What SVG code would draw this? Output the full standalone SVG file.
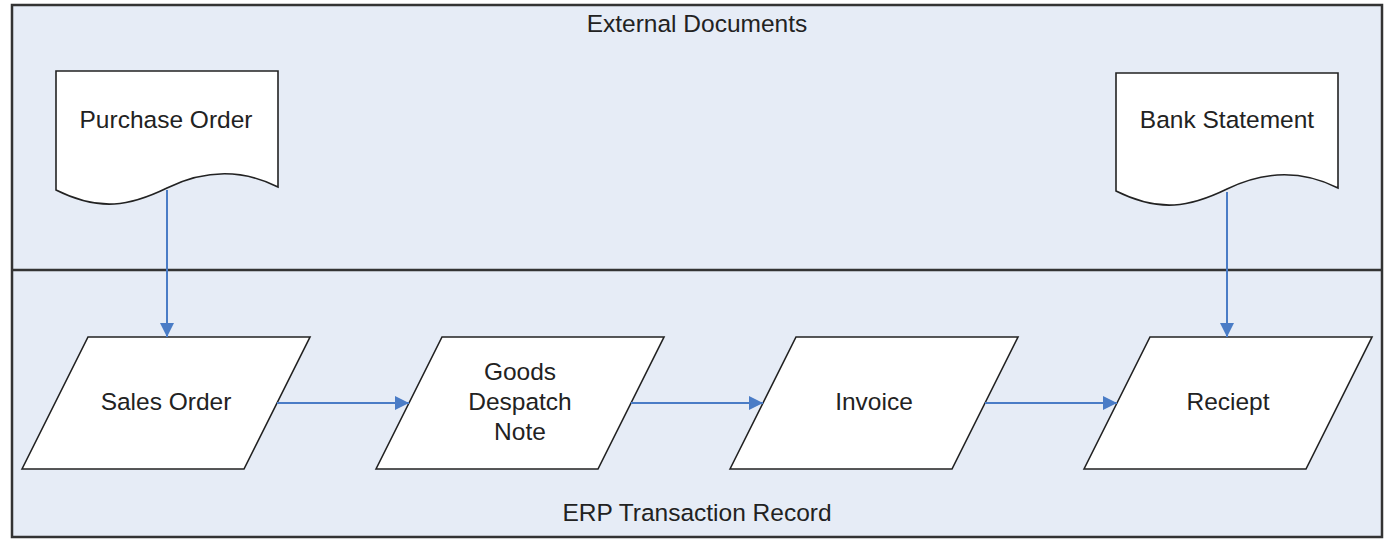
<svg xmlns="http://www.w3.org/2000/svg" width="1394" height="548" viewBox="0 0 1394 548">
<style>
.lbl{font-family:"Liberation Sans",Arial,sans-serif;font-size:24.5px;fill:#222;text-anchor:middle}
.shape{fill:#fff;stroke:#222;stroke-width:1.6}
.conn{fill:none;stroke:#4a7cc6;stroke-width:2}
</style>
<defs>
<marker id="ah" viewBox="0 0 10 10" refX="10" refY="5" markerWidth="14" markerHeight="14" markerUnits="userSpaceOnUse" orient="auto">
<path d="M0,0 L10,5 L0,10 Z" fill="#4a7cc6"/>
</marker>
</defs>
<rect width="1394" height="548" fill="#fff"/>
<g id="lanes">
<rect x="12" y="5" width="1370" height="532" fill="#e6ecf6" stroke="#333" stroke-width="2.5"/>
<line x1="12" y1="270" x2="1382" y2="270" stroke="#333" stroke-width="2.5"/>
<text class="lbl" x="697" y="32">External Documents</text>
<text class="lbl" x="697" y="521">ERP Transaction Record</text>
</g>
<g id="purchase-order">
<path class="shape" d="M56,71 H278 V187 C240,168 204,170 167,188 C130,206 100,212 56,190 Z"/>
<text class="lbl" x="166" y="128">Purchase Order</text>
</g>
<g id="bank-statement">
<path class="shape" d="M1116,73 H1338 V188 C1300,169 1264,171 1227,189 C1190,207 1160,213 1116,191 Z"/>
<text class="lbl" x="1227" y="128">Bank Statement</text>
</g>
<g id="sales-order">
<polygon class="shape" points="22,469 88,337 310,337 244,469"/>
<text class="lbl" x="166" y="410">Sales Order</text>
</g>
<g id="goods-despatch-note">
<polygon class="shape" points="376,469 442,337 664,337 598,469"/>
<text class="lbl" x="520" y="380">Goods</text>
<text class="lbl" x="520" y="410">Despatch</text>
<text class="lbl" x="520" y="440">Note</text>
</g>
<g id="invoice">
<polygon class="shape" points="730,469 796,337 1018,337 952,469"/>
<text class="lbl" x="874" y="410">Invoice</text>
</g>
<g id="reciept">
<polygon class="shape" points="1084,469 1150,337 1372,337 1306,469"/>
<text class="lbl" x="1228" y="410">Reciept</text>
</g>
<g id="connectors">
<line class="conn" x1="167" y1="190" x2="167" y2="337" marker-end="url(#ah)"/>
<line class="conn" x1="1227" y1="192" x2="1227" y2="337" marker-end="url(#ah)"/>
<line class="conn" x1="277" y1="403" x2="409" y2="403" marker-end="url(#ah)"/>
<line class="conn" x1="631" y1="403" x2="763" y2="403" marker-end="url(#ah)"/>
<line class="conn" x1="985" y1="403" x2="1117" y2="403" marker-end="url(#ah)"/>
</g>
</svg>
